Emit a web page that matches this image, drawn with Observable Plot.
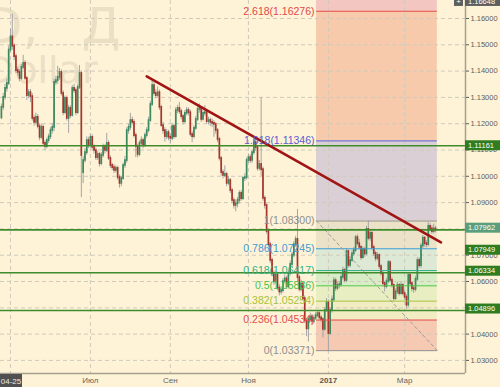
<!DOCTYPE html>
<html><head><meta charset="utf-8">
<script src="https://cdn.jsdelivr.net/npm/d3@7"></script>
<script src="https://cdn.jsdelivr.net/npm/@observablehq/plot@0.6"></script>
<style>
html,body{margin:0;padding:0;background:#fef3d6;}
#chart{width:500px;height:387px;overflow:hidden;}
</style></head><body><div id="chart"></div>
<script>
// Daily EUR/USD candles, bar index 0 = 2016-04-25
const open = [1.1222,1.1262,1.1300,1.1334,1.1353,1.1480,1.1530,1.1495,1.1455,1.1402,
1.1395,1.1372,1.1414,1.1429,1.1372,1.1307,1.1318,1.1303,1.1220,1.1205,
1.1224,1.1189,1.1148,1.1186,1.1125,1.1113,1.1136,1.1150,1.1174,1.1186,
1.1357,1.1364,1.1376,1.1395,1.1315,1.1242,1.1296,1.1220,1.1258,1.1231,
1.1334,1.1326,1.1242,1.1338,1.1391,1.1014,1.1060,1.1090,1.1136,1.1117,
1.1148,1.1110,1.1098,1.1071,1.1083,1.1048,1.1079,1.1110,1.1098,1.1125,
1.1068,1.1041,1.1033,1.1022,1.1030,1.0995,1.0973,1.0991,1.1041,1.1060,
1.1174,1.1186,1.1212,1.1205,1.1155,1.1113,1.1083,1.1125,1.1136,1.1117,
1.1155,1.1174,1.1212,1.1273,1.1345,1.1315,1.1307,1.1318,1.1262,1.1193,
1.1174,1.1151,1.1166,1.1148,1.1144,1.1189,1.1151,1.1250,1.1258,1.1246,
1.1227,1.1208,1.1239,1.1250,1.1242,1.1159,1.1151,1.1182,1.1216,1.1254,
1.1258,1.1216,1.1239,1.1242,1.1208,1.1212,1.1205,1.1201,1.1197,1.1174,
1.1140,1.1068,1.1014,1.1003,1.1007,1.0973,1.0984,1.0946,1.0908,1.0889,
1.0896,1.0908,1.0935,1.0915,1.0992,1.0995,1.1060,1.1071,1.1060,1.1090,
1.1128,1.1109,1.1030,1.1045,1.1025,1.0916,1.0889,1.0790,1.0740,1.0680,
1.0630,1.0600,1.0625,1.0575,1.0560,1.0565,1.0600,1.0610,1.0580,1.0630,
1.0665,1.0700,1.0740,1.0760,1.0615,1.0570,1.0590,1.0535,1.0450,1.0420,
1.0455,1.0465,1.0448,1.0460,1.0470,1.0478,1.0462,1.0455,1.0418,1.0490,
1.0520,1.0402,1.0490,1.0530,1.0603,1.0574,1.0585,1.0588,1.0616,1.0642,
1.0604,1.0714,1.0661,1.0680,1.0705,1.0718,1.0767,1.0744,1.0730,1.0691,
1.0722,1.0705,1.0798,1.0764,1.0783,1.0729,1.0706,1.0687,1.0699,1.0657,
1.0630,1.0592,1.0581,1.0600,1.0672,1.0604,1.0585,1.0535,1.0560,1.0585,
1.0554,1.0585,1.0554,1.0540,1.0510,1.0623,1.0592,1.0573,1.0570,1.0608,
1.0680,1.0660,1.0735,1.0765,1.0744,1.0740,1.0810,1.0800,1.0790,1.0800];
const high = [1.1275,1.1315,1.1350,1.1370,1.1495,1.1560,1.1616,1.1505,1.1465,1.1415,
1.1405,1.1425,1.1460,1.1440,1.1380,1.1330,1.1330,1.1315,1.1232,1.1240,
1.1235,1.1200,1.1198,1.1195,1.1135,1.1145,1.1160,1.1185,1.1200,1.1370,
1.1380,1.1418,1.1410,1.1405,1.1325,1.1305,1.1305,1.1270,1.1268,1.1345,
1.1350,1.1335,1.1350,1.1421,1.1400,1.1075,1.1105,1.1150,1.1148,1.1160,
1.1158,1.1120,1.1108,1.1095,1.1090,1.1090,1.1122,1.1120,1.1163,1.1135,
1.1078,1.1050,1.1045,1.1040,1.1038,1.1005,1.1000,1.1050,1.1075,1.1185,
1.1198,1.1239,1.1225,1.1215,1.1165,1.1122,1.1135,1.1150,1.1145,1.1165,
1.1185,1.1225,1.1285,1.1366,1.1355,1.1330,1.1340,1.1328,1.1270,1.1205,
1.1185,1.1178,1.1175,1.1160,1.1200,1.1198,1.1262,1.1270,1.1281,1.1255,
1.1235,1.1250,1.1262,1.1260,1.1252,1.1170,1.1192,1.1228,1.1265,1.1275,
1.1265,1.1250,1.1269,1.1250,1.1225,1.1222,1.1218,1.1212,1.1205,1.1182,
1.1148,1.1075,1.1025,1.1040,1.1015,1.1000,1.0992,1.0955,1.0918,1.0910,
1.0920,1.0945,1.0945,1.1000,1.1010,1.1070,1.1085,1.1082,1.1100,1.1142,
1.1140,1.1115,1.1060,1.1300,1.1035,1.0925,1.0895,1.0800,1.0750,1.0690,
1.0640,1.0640,1.0635,1.0588,1.0580,1.0612,1.0625,1.0620,1.0640,1.0678,
1.0712,1.0752,1.0772,1.0874,1.0625,1.0605,1.0600,1.0545,1.0460,1.0465,
1.0480,1.0475,1.0472,1.0482,1.0488,1.0485,1.0470,1.0462,1.0500,1.0535,
1.0530,1.0500,1.0545,1.0615,1.0612,1.0598,1.0600,1.0628,1.0655,1.0650,
1.0725,1.0720,1.0692,1.0718,1.0730,1.0775,1.0778,1.0760,1.0738,1.0732,
1.0730,1.0810,1.0830,1.0795,1.0790,1.0738,1.0715,1.0710,1.0705,1.0665,
1.0640,1.0600,1.0612,1.0680,1.0679,1.0615,1.0592,1.0572,1.0598,1.0592,
1.0596,1.0592,1.0565,1.0550,1.0632,1.0630,1.0600,1.0585,1.0620,1.0690,
1.0690,1.0745,1.0775,1.0770,1.0755,1.0825,1.0820,1.0812,1.0818,1.0810];
const low = [1.1215,1.1250,1.1290,1.1320,1.1345,1.1470,1.1480,1.1440,1.1390,1.1380,
1.1360,1.1365,1.1405,1.1365,1.1288,1.1295,1.1280,1.1210,1.1190,1.1195,
1.1180,1.1135,1.1140,1.1115,1.1098,1.1105,1.1125,1.1140,1.1160,1.1170,
1.1345,1.1350,1.1365,1.1305,1.1230,1.1235,1.1210,1.1163,1.1220,1.1225,
1.1315,1.1230,1.1235,1.1330,1.0919,1.0972,1.1050,1.1080,1.1105,1.1110,
1.1100,1.1085,1.1060,1.1060,1.1035,1.1040,1.1070,1.1085,1.1090,1.1060,
1.1030,1.1022,1.1010,1.1012,1.0985,1.0955,1.0960,1.0985,1.1030,1.1050,
1.1160,1.1175,1.1195,1.1145,1.1071,1.1070,1.1075,1.1115,1.1105,1.1110,
1.1145,1.1165,1.1205,1.1265,1.1305,1.1295,1.1300,1.1250,1.1185,1.1160,
1.1130,1.1140,1.1135,1.1125,1.1135,1.1140,1.1145,1.1238,1.1235,1.1215,
1.1195,1.1200,1.1230,1.1230,1.1150,1.1128,1.1142,1.1175,1.1208,1.1240,
1.1205,1.1210,1.1228,1.1198,1.1195,1.1190,1.1185,1.1148,1.1160,1.1128,
1.1058,1.1000,1.0990,1.0995,1.0960,1.0965,1.0935,1.0895,1.0875,1.0865,
1.0880,1.0895,1.0905,1.0908,1.0980,1.0985,1.1050,1.1048,1.1050,1.1080,
1.1095,1.1020,1.1020,1.1000,1.0905,1.0875,1.0780,1.0728,1.0668,1.0618,
1.0585,1.0590,1.0565,1.0545,1.0548,1.0555,1.0590,1.0570,1.0572,1.0620,
1.0655,1.0690,1.0730,1.0600,1.0560,1.0560,1.0525,1.0440,1.0390,1.0370,
1.0445,1.0435,1.0440,1.0452,1.0462,1.0452,1.0445,1.0385,1.0410,1.0482,
1.0337,1.0395,1.0480,1.0522,1.0562,1.0565,1.0572,1.0580,1.0605,1.0595,
1.0598,1.0650,1.0652,1.0672,1.0695,1.0710,1.0735,1.0720,1.0680,1.0685,
1.0692,1.0698,1.0755,1.0752,1.0718,1.0695,1.0675,1.0678,1.0645,1.0620,
1.0582,1.0560,1.0572,1.0592,1.0595,1.0575,1.0522,1.0528,1.0550,1.0545,
1.0548,1.0545,1.0528,1.0495,1.0502,1.0582,1.0560,1.0555,1.0560,1.0600,
1.0650,1.0650,1.0725,1.0730,1.0728,1.0732,1.0790,1.0780,1.0782,1.0785];
const close = [1.1262,1.1300,1.1334,1.1353,1.1480,1.1530,1.1495,1.1455,1.1402,1.1395,
1.1372,1.1414,1.1429,1.1372,1.1307,1.1318,1.1303,1.1220,1.1205,1.1224,
1.1189,1.1148,1.1186,1.1125,1.1113,1.1136,1.1150,1.1174,1.1186,1.1357,
1.1364,1.1376,1.1395,1.1315,1.1242,1.1296,1.1220,1.1258,1.1231,1.1334,
1.1326,1.1242,1.1338,1.1391,1.1079,1.1060,1.1090,1.1136,1.1117,1.1148,
1.1110,1.1098,1.1071,1.1083,1.1048,1.1079,1.1110,1.1098,1.1125,1.1068,
1.1041,1.1033,1.1022,1.1030,1.0995,1.0973,1.0991,1.1041,1.1060,1.1174,
1.1186,1.1212,1.1205,1.1155,1.1113,1.1083,1.1125,1.1136,1.1117,1.1155,
1.1174,1.1212,1.1273,1.1345,1.1315,1.1307,1.1318,1.1262,1.1193,1.1174,
1.1151,1.1166,1.1148,1.1144,1.1189,1.1151,1.1250,1.1258,1.1246,1.1227,
1.1208,1.1239,1.1250,1.1242,1.1159,1.1151,1.1182,1.1216,1.1254,1.1258,
1.1216,1.1239,1.1242,1.1208,1.1212,1.1205,1.1201,1.1197,1.1174,1.1140,
1.1068,1.1014,1.1003,1.1007,1.0973,1.0984,1.0946,1.0908,1.0889,1.0896,
1.0908,1.0935,1.0915,1.0992,1.0995,1.1060,1.1071,1.1060,1.1090,1.1128,
1.1109,1.1030,1.1045,1.1025,1.0916,1.0889,1.0790,1.0740,1.0680,1.0630,
1.0600,1.0625,1.0575,1.0560,1.0565,1.0600,1.0610,1.0580,1.0630,1.0665,
1.0700,1.0740,1.0760,1.0615,1.0570,1.0590,1.0535,1.0450,1.0420,1.0455,
1.0465,1.0448,1.0460,1.0470,1.0478,1.0462,1.0455,1.0418,1.0490,1.0520,
1.0402,1.0490,1.0530,1.0603,1.0574,1.0585,1.0588,1.0616,1.0642,1.0604,
1.0714,1.0661,1.0680,1.0705,1.0718,1.0767,1.0744,1.0730,1.0691,1.0722,
1.0705,1.0798,1.0764,1.0783,1.0729,1.0706,1.0687,1.0699,1.0657,1.0630,
1.0592,1.0581,1.0600,1.0672,1.0604,1.0585,1.0535,1.0560,1.0585,1.0554,
1.0585,1.0554,1.0540,1.0510,1.0623,1.0592,1.0573,1.0570,1.0608,1.0680,
1.0660,1.0735,1.0765,1.0744,1.0740,1.0810,1.0800,1.0790,1.0800,1.0795];

// Fibonacci object
const fibX = [173.5, 240];
const fibRatios = ["2.618","1.618","1","0.786","0.618","0.5","0.382","0.236","0"];
const fibPrices = [1.16276,1.11346,1.08300,1.07245,1.06417,1.05836,1.05254,1.04534,1.03371];
const fibColors = ["#e2484b","#5c5cd2","#8e8e8e","#3f9bd4","#2fb28c","#4cc44a","#a3c33e","#e24f4f","#8e8e8e"];
const zoneFills = ["#f4c6c1","#f6caaa","#dacfd5","#ece2c7","#dde9d4","#d8ecc5","#e8eec2","#f2ecc2","#f6c9b2"];

// Trend line and horizontal levels
const trendI = [80, 242];
const trendP = [1.1380, 1.0749];
const hLevels = [1.11161, 1.07962, 1.06334, 1.04896];

// Price tags on the right scale
const tagValues = [1.11161, 1.07962, 1.07949, 1.06334, 1.04896];
const tagColors = ["#2f7d1f","#5a9e7b","#2f7d1f","#2f7d1f","#2f7d1f"];
const tagShift = [0, -1.7, 20, -1.5, -1.5];
const lastHigh = 1.16648;

// Axes
const yTicks = [1.03,1.04,1.05,1.06,1.07,1.08,1.09,1.10,1.11,1.12,1.13,1.14,1.15,1.16];
const xTickIdx = [5, 49, 93, 136, 180, 222];
const xTickLab = ["Май","Июл","Сен","Ноя","2017","Мар"];
const firstDateLabel = "04-25";

// Watermark
const wmSymbol = "EURUSD,";
const wmPeriod = "Д";
const wmName = "Euro vs US Dollar";

const yMin = 1.02502, yMax = 1.16684;
const candles = close.map((c, i) => ({i, o: open[i], h: high[i], l: low[i], c}));
const fib = fibPrices.map((p, k) => ({p, r: fibRatios[k], col: fibColors[k]}));
const zones = fibPrices.map((p, k) => ({lo: p, hi: k === 0 ? yMax : fibPrices[k - 1], fill: zoneFills[k]}));
const diag = [{i: fibX[0], p: fibPrices[2]}, {i: fibX[1], p: fibPrices[8]}];
const trend = trendI.map((i, k) => ({i, p: trendP[k]}));
const labOf = new Map(xTickIdx.map((d, k) => [d, xTickLab[k]]));
const axisCol = "#a59f90";
const wmCol = "#ebe0c4";
const FONT = "Liberation Sans, Arial, sans-serif";

const chart = Plot.plot({
  width: 500, height: 387,
  marginLeft: 0, marginRight: 35, marginTop: 0, marginBottom: 14,
  style: {background: "#fef3d6", fontFamily: FONT},
  x: {domain: [-0.5, 255.5], axis: null},
  y: {domain: [yMin, yMax], axis: null},
  marks: [
    Plot.text([wmSymbol], {frameAnchor: "top-left", dx: 38, dy: 7, textAnchor: "end", lineAnchor: "top", fontSize: 50, fill: wmCol, fontFamily: "DejaVu Sans"}),
    Plot.text([wmPeriod], {frameAnchor: "top-left", dx: 120, dy: 7, textAnchor: "end", lineAnchor: "top", fontSize: 50, fill: wmCol, fontFamily: "DejaVu Sans"}),
    Plot.text([wmName], {frameAnchor: "top-left", dx: 97, dy: 56, textAnchor: "end", lineAnchor: "top", fontSize: 38, fill: wmCol, fontFamily: "DejaVu Sans"}),
    Plot.rect(zones, {x1: () => fibX[0], x2: () => fibX[1], y1: "lo", y2: "hi", fill: "fill"}),
    Plot.gridY(yTicks, {stroke: "#cfcabd", strokeOpacity: 1, strokeDasharray: "4,3"}),
    Plot.gridX(xTickIdx, {stroke: "#cfcabd", strokeOpacity: 1, strokeDasharray: "4,3"}),
    Plot.ruleX(candles, {x: "i", y1: "l", y2: "h", stroke: "#a4a4a4", strokeWidth: 1}),
    Plot.ruleX(candles, {x: "i", y1: "o", y2: "c", stroke: d => d.c >= d.o ? "#3a8a5e" : "#a8352c", strokeWidth: 1.7, strokeLinecap: "square"}),
    Plot.ruleY(fib, {y: "p", x1: () => fibX[0], x2: () => fibX[1], stroke: "col", strokeWidth: 1}),
    Plot.line(diag, {x: "i", y: "p", stroke: "#9c9c9c", strokeWidth: 1, strokeDasharray: "3,3"}),
    Plot.ruleY(hLevels, {stroke: "#3f8c2c", strokeWidth: 1.6}),
    Plot.line(trend, {x: "i", y: "p", stroke: "#a01414", strokeWidth: 2.6}),
    Plot.text(fib, {x: () => fibX[0], y: "p", text: d => `${d.r}(${d.p.toFixed(5)})`, textAnchor: "end", dx: -2, fill: "col", fontSize: 10.5}),
    Plot.ruleX([255.5], {stroke: axisCol, strokeWidth: 1.5}),
    Plot.ruleY([yMin], {stroke: axisCol, strokeWidth: 1.5}),
    Plot.axisY(yTicks, {anchor: "right", tickFormat: d3.format(".5f"), tickSize: 3, tickPadding: 2, fontSize: 7.5, color: "#5e5e5e", label: null}),
    Plot.axisX(xTickIdx.filter(d => labOf.get(d) !== "2017"), {anchor: "bottom", tickFormat: d => labOf.get(d), tickSize: 0, tickPadding: 4, fontSize: 8, color: "#666", label: null}),
    Plot.axisX(xTickIdx.filter(d => labOf.get(d) === "2017"), {anchor: "bottom", tickFormat: d => labOf.get(d), tickSize: 0, tickPadding: 4, fontSize: 8, fontWeight: "bold", color: "#555", label: null})
  ]
});
document.getElementById("chart").appendChild(chart);

// price tags and corner labels, positioned through Plot's scales
const svg = d3.select(chart);
const xs = chart.scale("x"), ys = chart.scale("y");
const ax = xs.apply(255.5);
const g = svg.append("g");
function tag(x, cy, w, bg, txt, anchor, size) {
  g.append("rect").attr("x", x).attr("y", cy - 5).attr("width", w).attr("height", 10).attr("fill", bg);
  g.append("text")
    .attr("x", anchor === "middle" ? x + w / 2 : x + 3).attr("y", cy).attr("dy", "0.36em")
    .style("font-family", FONT).style("font-size", (size || 7.5) + "px")
    .style("text-anchor", anchor || "start").style("fill", "#ffffff")
    .text(txt);
}
tagValues.forEach((v, k) => tag(ax, ys.apply(v) + tagShift[k], 500 - ax, tagColors[k], d3.format(".5f")(v)));
tag(ax, ys.apply(lastHigh), 500 - ax, "#5e5e5e", d3.format(".5f")(lastHigh));
tag(ax - 11, ys.apply(lastHigh), 9, "#5e5e5e", "+", "middle", 8);
{
  const by = ys.apply(yMin);
  g.append("rect").attr("x", 0).attr("y", by + 1).attr("width", 22).attr("height", 387 - by - 1).attr("fill", "#505050");
  g.append("text").attr("x", 11).attr("y", by + 8).attr("dy", "0.36em")
    .style("font-family", FONT).style("font-size", "8px").style("text-anchor", "middle").style("fill", "#e8e8e8")
    .text(firstDateLabel);
}
</script>
</body></html>
